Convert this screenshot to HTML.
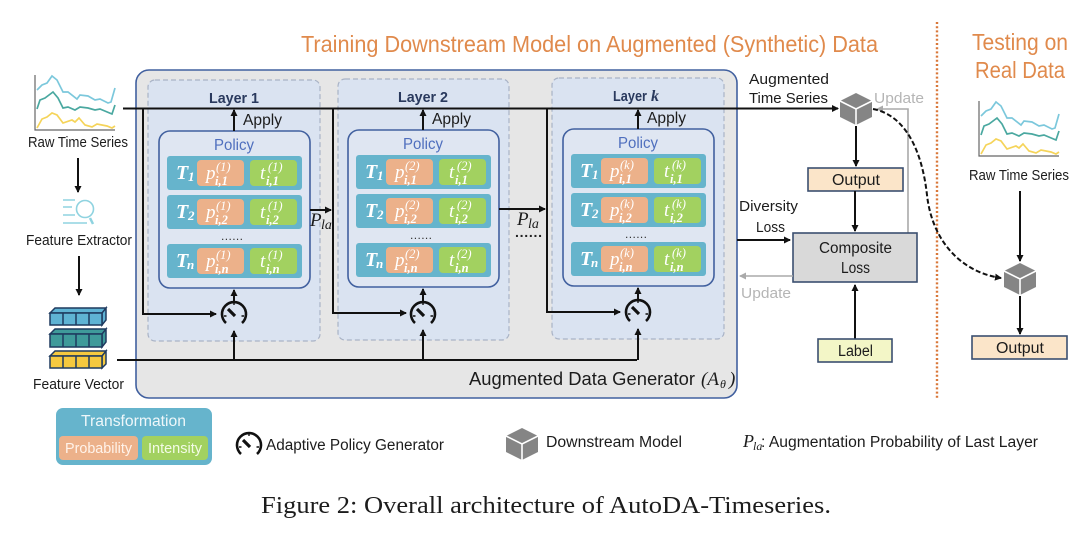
<!DOCTYPE html>
<html><head><meta charset="utf-8"><style>
html,body{margin:0;padding:0;background:#fff;width:1080px;height:539px;overflow:hidden}
svg{display:block;filter:blur(.3px)}
text{font-family:"Liberation Sans",sans-serif;fill:#1c1c1c}
.s{font-family:"Liberation Serif",serif;font-style:italic;fill:#fff}
.T{font-size:20px;font-weight:bold}
.Ts{font-size:13px;font-weight:bold;transform:translate(-3px,-1px)}
.p{font-size:19px;transform:translate(0,1px)}
.u{font-size:12.5px;transform:translate(1px,1px)}
.d{font-size:12.5px;font-weight:bold;transform:translate(0,1px)}
.m{font-family:"Liberation Serif",serif;font-style:italic;fill:#1c1c1c}
.l{stroke:#111;stroke-width:2;fill:none}
.ly{font-size:15px;font-weight:bold;fill:#2a3a5e}
.ap{font-size:16px}
.po{font-size:16px;fill:#4f6fbe}
</style></head><body>
<svg width="1080" height="539" viewBox="0 0 1080 539" xmlns="http://www.w3.org/2000/svg">
<defs>
<marker id="a" markerWidth="9" markerHeight="9" refX="6" refY="3.5" orient="auto" markerUnits="userSpaceOnUse"><path d="M0 0L7 3.5L0 7Z" fill="#111"/></marker>
<marker id="g" markerWidth="9" markerHeight="9" refX="6" refY="3.5" orient="auto" markerUnits="userSpaceOnUse"><path d="M0 0L7 3.5L0 7Z" fill="#aaa"/></marker>
<g id="cube"><path d="M0-16L16-8V8L0 16L-16 8V-8Z" fill="#858585"/><path d="M-16-8L0 0L16-8M0 0V16" stroke="#fff" stroke-width="1.6" fill="none"/></g>
<g id="gauge"><path d="M-8 9A12 12 0 1 1 8 9" fill="none" stroke="#111" stroke-width="2.6"/><path d="M-6-5L1 2" stroke="#111" stroke-width="3.2"/><path d="M-10 2h2.5M10 2h-2.5M0-11v2" stroke="#111" stroke-width="1.4"/></g>
<g id="chart" fill="none" stroke-width="1.7">
<path d="M35 75V130H115" stroke="#666" stroke-width="1.2"/>
<path d="M37 90L42 85L47 83L52 76L57 80L63 92L68 92L77 99L80 95L88 96L95 100L100 99L108 103L111 102L115 88" stroke="#7cc8dc"/>
<path d="M37 109L40 100L45 98L53 92L58 98L63 108L68 107L75 110L80 107L88 108L95 110L100 109L112 114L115 105" stroke="#4aa8a0"/>
<path d="M37 128L42 119L47 117L52 113L57 115L63 123L72 120L75 122L79 118L85 125L92 127L97 124L107 126L112 128L115 126" stroke="#f5d45a"/>
</g>
<g id="rows">
<rect x="159" y="131" width="151" height="157" rx="11" fill="#dfe6f2" stroke="#41609f" stroke-width="1.6"/>
<rect x="167" y="156" width="135" height="34" rx="3" fill="#66b4cc"/>
<rect x="197" y="160" width="47" height="26" rx="4" fill="#ecb18a"/><rect x="250" y="160" width="47" height="26" rx="4" fill="#a2d160"/>
<rect x="167" y="195" width="135" height="34" rx="3" fill="#66b4cc"/>
<rect x="197" y="199" width="47" height="26" rx="4" fill="#ecb18a"/><rect x="250" y="199" width="47" height="26" rx="4" fill="#a2d160"/>
<rect x="167" y="244" width="135" height="34" rx="3" fill="#66b4cc"/>
<rect x="197" y="248" width="47" height="26" rx="4" fill="#ecb18a"/><rect x="250" y="248" width="47" height="26" rx="4" fill="#a2d160"/>
</g>
</defs>

<text x="301" y="52" font-size="23.5" textLength="577" lengthAdjust="spacingAndGlyphs" style="fill:#e08a4c">Training Downstream Model on Augmented (Synthetic) Data</text>
<text x="972" y="50" font-size="23.5" textLength="96" lengthAdjust="spacingAndGlyphs" style="fill:#e08a4c">Testing on</text>
<text x="975" y="78" font-size="23.5" textLength="90" lengthAdjust="spacingAndGlyphs" style="fill:#e08a4c">Real Data</text>
<path d="M937 22V398" stroke="#d9783a" stroke-width="2.4" stroke-dasharray="2 2.2" fill="none"/>

<rect x="136" y="70" width="601" height="328" rx="13" fill="#e6e6e6" stroke="#41609f" stroke-width="1.6"/>
<rect x="148" y="80" width="172" height="261" rx="7" fill="#dae3f1" stroke="#a9b3c6" stroke-width="1.2" stroke-dasharray="5 3"/>
<rect x="338" y="79" width="171" height="261" rx="7" fill="#dae3f1" stroke="#a9b3c6" stroke-width="1.2" stroke-dasharray="5 3"/>
<rect x="552" y="78" width="172" height="261" rx="7" fill="#dae3f1" stroke="#a9b3c6" stroke-width="1.2" stroke-dasharray="5 3"/>

<use href="#rows"/>
<use href="#rows" transform="translate(189,-1)"/>
<use href="#rows" transform="translate(404,-2)"/>

<!-- Layer 1 -->
<g>
<text x="209" y="103" class="ly" textLength="50" lengthAdjust="spacingAndGlyphs">Layer 1</text>
<text x="243" y="125" class="ap" textLength="39" lengthAdjust="spacingAndGlyphs">Apply</text>
<text x="214" y="150" class="po" textLength="40" lengthAdjust="spacingAndGlyphs">Policy</text>
<text x="176" y="179" class="s T">T</text><text x="191" y="182" class="s Ts">1</text>
<text x="206" y="178" class="s p">p</text><text x="215" y="170" class="s u">(1)</text><text x="215" y="184" class="s d">i,1</text>
<text x="260" y="178" class="s p">t</text><text x="267" y="170" class="s u">(1)</text><text x="266" y="184" class="s d">i,1</text>
<text x="176" y="218" class="s T">T</text><text x="191" y="221" class="s Ts">2</text>
<text x="206" y="217" class="s p">p</text><text x="215" y="209" class="s u">(1)</text><text x="215" y="223" class="s d">i,2</text>
<text x="260" y="217" class="s p">t</text><text x="267" y="209" class="s u">(1)</text><text x="266" y="223" class="s d">i,2</text>
<text x="221" y="240" font-size="12" textLength="22" style="fill:#333">......</text>
<text x="176" y="267" class="s T">T</text><text x="190" y="270" class="s Ts">n</text>
<text x="206" y="266" class="s p">p</text><text x="215" y="258" class="s u">(1)</text><text x="215" y="272" class="s d">i,n</text>
<text x="260" y="266" class="s p">t</text><text x="267" y="258" class="s u">(1)</text><text x="266" y="272" class="s d">i,n</text>
</g>
<!-- Layer 2 -->
<g transform="translate(189,-1)">
<text x="209" y="103" class="ly" textLength="50" lengthAdjust="spacingAndGlyphs">Layer 2</text>
<text x="243" y="125" class="ap" textLength="39" lengthAdjust="spacingAndGlyphs">Apply</text>
<text x="214" y="150" class="po" textLength="40" lengthAdjust="spacingAndGlyphs">Policy</text>
<text x="176" y="179" class="s T">T</text><text x="191" y="182" class="s Ts">1</text>
<text x="206" y="178" class="s p">p</text><text x="215" y="170" class="s u">(2)</text><text x="215" y="184" class="s d">i,1</text>
<text x="260" y="178" class="s p">t</text><text x="267" y="170" class="s u">(2)</text><text x="266" y="184" class="s d">i,1</text>
<text x="176" y="218" class="s T">T</text><text x="191" y="221" class="s Ts">2</text>
<text x="206" y="217" class="s p">p</text><text x="215" y="209" class="s u">(2)</text><text x="215" y="223" class="s d">i,2</text>
<text x="260" y="217" class="s p">t</text><text x="267" y="209" class="s u">(2)</text><text x="266" y="223" class="s d">i,2</text>
<text x="221" y="240" font-size="12" textLength="22" style="fill:#333">......</text>
<text x="176" y="267" class="s T">T</text><text x="190" y="270" class="s Ts">n</text>
<text x="206" y="266" class="s p">p</text><text x="215" y="258" class="s u">(2)</text><text x="215" y="272" class="s d">i,n</text>
<text x="260" y="266" class="s p">t</text><text x="267" y="258" class="s u">(2)</text><text x="266" y="272" class="s d">i,n</text>
</g>
<!-- Layer k -->
<g transform="translate(404,-2)">
<text x="209" y="103" class="ly" textLength="34" lengthAdjust="spacingAndGlyphs">Layer</text><text x="247" y="103" font-size="16" font-weight="bold" style="font-family:'Liberation Serif',serif;font-style:italic;fill:#2a3a5e">k</text>
<text x="243" y="125" class="ap" textLength="39" lengthAdjust="spacingAndGlyphs">Apply</text>
<text x="214" y="150" class="po" textLength="40" lengthAdjust="spacingAndGlyphs">Policy</text>
<text x="176" y="179" class="s T">T</text><text x="191" y="182" class="s Ts">1</text>
<text x="206" y="178" class="s p">p</text><text x="215" y="170" class="s u">(k)</text><text x="215" y="184" class="s d">i,1</text>
<text x="260" y="178" class="s p">t</text><text x="267" y="170" class="s u">(k)</text><text x="266" y="184" class="s d">i,1</text>
<text x="176" y="218" class="s T">T</text><text x="191" y="221" class="s Ts">2</text>
<text x="206" y="217" class="s p">p</text><text x="215" y="209" class="s u">(k)</text><text x="215" y="223" class="s d">i,2</text>
<text x="260" y="217" class="s p">t</text><text x="267" y="209" class="s u">(k)</text><text x="266" y="223" class="s d">i,2</text>
<text x="221" y="240" font-size="12" textLength="22" style="fill:#333">......</text>
<text x="176" y="267" class="s T">T</text><text x="190" y="270" class="s Ts">n</text>
<text x="206" y="266" class="s p">p</text><text x="215" y="258" class="s u">(k)</text><text x="215" y="272" class="s d">i,n</text>
<text x="260" y="266" class="s p">t</text><text x="267" y="258" class="s u">(k)</text><text x="266" y="272" class="s d">i,n</text>
</g>

<!-- connectors -->
<path class="l" d="M123 108.500H838" marker-end="url(#a)"/>
<path class="l" d="M143 108.500V314H216" marker-end="url(#a)"/>
<path class="l" d="M333 108.500V313H406" marker-end="url(#a)"/>
<path class="l" d="M547 108.500V312H620" marker-end="url(#a)"/>
<path class="l" d="M234 131V110" marker-end="url(#a)"/>
<path class="l" d="M423 130V110" marker-end="url(#a)"/>
<path class="l" d="M638 129V110" marker-end="url(#a)"/>
<path class="l" d="M117 360H637"/>
<path class="l" d="M234 360V331" marker-end="url(#a)"/>
<path class="l" d="M423 360V330" marker-end="url(#a)"/>
<path class="l" d="M638 360V329" marker-end="url(#a)"/>
<path class="l" d="M234 303V290" marker-end="url(#a)"/>
<path class="l" d="M423 302V289" marker-end="url(#a)"/>
<path class="l" d="M638 301V288" marker-end="url(#a)"/>
<path class="l" d="M310 210H331" marker-end="url(#a)"/>
<path class="l" d="M499 209H545" marker-end="url(#a)"/>
<use href="#gauge" x="234" y="314"/>
<use href="#gauge" x="423" y="314"/>
<use href="#gauge" x="638" y="312"/>
<text x="310" y="226" font-size="19" class="m">P</text><text x="321" y="229" font-size="14" class="m">la</text>
<text x="517" y="225" font-size="19" class="m">P</text><text x="528" y="228" font-size="14" class="m">la</text>
<text x="515" y="237" font-size="14" textLength="27" style="font-weight:bold;fill:#222">......</text>
<text x="469" y="385" font-size="18.500" textLength="226" lengthAdjust="spacingAndGlyphs">Augmented Data Generator</text>
<text x="701" y="385" font-size="19" class="m">(A</text><text x="720" y="388" font-size="12" class="m">θ</text><text x="729" y="385" font-size="19" class="m">)</text>

<!-- Left column -->
<use href="#chart"/>
<text x="28" y="147" font-size="14.500" textLength="100" lengthAdjust="spacingAndGlyphs">Raw Time Series</text>
<path class="l" d="M78 158V192" marker-end="url(#a)"/>
<g fill="none" stroke="#8fd3e0" stroke-width="1.6">
<circle cx="85" cy="209" r="8.500"/>
<path d="M63 200H75M63 207H72M63 215H75M63 223H87"/>
<path d="M90 218L93 224" stroke-width="2.500"/>
</g>
<text x="26" y="245" font-size="14.500" textLength="106" lengthAdjust="spacingAndGlyphs">Feature Extractor</text>
<path class="l" d="M79 256V295" marker-end="url(#a)"/>
<g stroke="#1f3a5f" stroke-width="1.5">
<g fill="#5fb3d4"><path d="M50 313L55 308H106L102 313Z M102 313L106 308V320L102 325Z"/><rect x="50" y="313" width="52" height="12"/><path d="M63 313V325M76 313V325M89 313V325" fill="none"/></g>
<g fill="#3f9a9a"><path d="M50 334L55 329H106L102 334Z M102 334L106 329V342L102 347Z"/><rect x="50" y="334" width="52" height="13"/><path d="M63 334V347M76 334V347M89 334V347" fill="none"/></g>
<g fill="#f5c93f"><path d="M50 356L55 351H106L102 356Z M102 356L106 351V364L102 368Z"/><rect x="50" y="356" width="52" height="12"/><path d="M63 356V368M76 356V368M89 356V368" fill="none"/></g>
</g>
<text x="33" y="389" font-size="14.500" textLength="91" lengthAdjust="spacingAndGlyphs">Feature Vector</text>

<!-- Right column -->
<text x="749" y="84" font-size="15" textLength="80" lengthAdjust="spacingAndGlyphs">Augmented</text>
<text x="749" y="103" font-size="15" textLength="79" lengthAdjust="spacingAndGlyphs">Time Series</text>
<text x="874" y="103" font-size="15" textLength="50" lengthAdjust="spacingAndGlyphs" style="fill:#b5b5b5">Update</text>
<path d="M908 233V109H877" fill="none" stroke="#aaa" stroke-width="1.6" marker-end="url(#g)"/>
<use href="#cube" x="856" y="109"/>
<path class="l" d="M856 126V166" marker-end="url(#a)"/>
<rect x="808" y="168" width="95" height="23" fill="#fbe5c9" stroke="#3b4f70" stroke-width="1.6"/>
<text x="832" y="185" font-size="16" textLength="48" lengthAdjust="spacingAndGlyphs">Output</text>
<path class="l" d="M855 191V231" marker-end="url(#a)"/>
<text x="739" y="211" font-size="15" textLength="59" lengthAdjust="spacingAndGlyphs">Diversity</text>
<text x="756" y="232" font-size="15" textLength="29" lengthAdjust="spacingAndGlyphs">Loss</text>
<path class="l" d="M737 240H790" marker-end="url(#a)"/>
<rect x="793" y="233" width="124" height="49" fill="#d9d9d9" stroke="#3b4f70" stroke-width="1.6"/>
<text x="819" y="253" font-size="15.500" textLength="73" lengthAdjust="spacingAndGlyphs">Composite</text>
<text x="841" y="273" font-size="15.500" textLength="29" lengthAdjust="spacingAndGlyphs">Loss</text>
<path d="M793 276H740" fill="none" stroke="#aaa" stroke-width="1.6" marker-end="url(#g)"/>
<text x="741" y="298" font-size="15" textLength="50" lengthAdjust="spacingAndGlyphs" style="fill:#b5b5b5">Update</text>
<path class="l" d="M855 339V285" marker-end="url(#a)"/>
<rect x="818" y="339" width="74" height="23" fill="#f3f6c7" stroke="#3b4f70" stroke-width="1.600"/>
<text x="838" y="356" font-size="15.500" textLength="35" lengthAdjust="spacingAndGlyphs">Label</text>
<path d="M873 109C905 115 922 150 927 195C932 240 960 272 1001 278" fill="none" stroke="#111" stroke-width="2" stroke-dasharray="5 2.500" marker-end="url(#a)"/>
<use href="#chart" transform="translate(944,26)"/>
<text x="969" y="180" font-size="14.500" textLength="100" lengthAdjust="spacingAndGlyphs">Raw Time Series</text>
<path class="l" d="M1020 191V261" marker-end="url(#a)"/>
<use href="#cube" x="1020" y="279"/>
<path class="l" d="M1020 296V334" marker-end="url(#a)"/>
<rect x="972" y="336" width="95" height="23" fill="#fbe5c9" stroke="#3b4f70" stroke-width="1.600"/>
<text x="996" y="353" font-size="16" textLength="48" lengthAdjust="spacingAndGlyphs">Output</text>

<!-- Legend -->
<rect x="56" y="408" width="156" height="57" rx="7" fill="#66b4cc"/>
<text x="81" y="426" font-size="15.500" textLength="105" lengthAdjust="spacingAndGlyphs" style="fill:#eef7fa">Transformation</text>
<rect x="59" y="436" width="79" height="24" rx="4" fill="#ecb18a"/>
<rect x="142" y="436" width="66" height="24" rx="4" fill="#a2d160"/>
<text x="65" y="453" font-size="14.500" textLength="67" lengthAdjust="spacingAndGlyphs" style="fill:#fff3ea">Probability</text>
<text x="148" y="453" font-size="14.500" textLength="54" lengthAdjust="spacingAndGlyphs" style="fill:#f3fbe6">Intensity</text>
<use href="#gauge" x="249" y="445"/>
<text x="266" y="450" font-size="15.500" textLength="178" lengthAdjust="spacingAndGlyphs">Adaptive Policy Generator</text>
<use href="#cube" transform="translate(522,444)"/>
<text x="546" y="447" font-size="15.500" textLength="136" lengthAdjust="spacingAndGlyphs">Downstream Model</text>
<text x="743" y="447" font-size="18" class="m">P</text><text x="753" y="450" font-size="12" class="m">la</text>
<text x="761" y="447" font-size="15.500" textLength="277" lengthAdjust="spacingAndGlyphs">: Augmentation Probability of Last Layer</text>

<text x="261" y="513" font-size="24" textLength="570" lengthAdjust="spacingAndGlyphs" style="font-family:'Liberation Serif',serif">Figure 2: Overall architecture of AutoDA-Timeseries.</text>
</svg>
</body></html>
